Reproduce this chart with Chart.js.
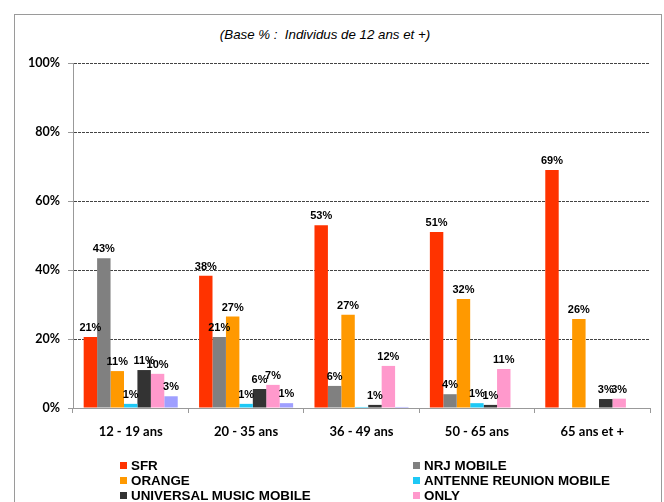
<!DOCTYPE html>
<html>
<head>
<meta charset="utf-8">
<script src="https://cdn.jsdelivr.net/npm/chart.js@4.4.0/dist/chart.umd.min.js"></script>
<style>
  html, body { margin: 0; padding: 0; background: #fff; }
  #wrap { position: relative; width: 664px; height: 502px; overflow: hidden; }
  #frame { position: absolute; left: 14px; top: 14px; width: 648px; height: 600px; border: 1px solid #9a9a9a; box-sizing: border-box; }
  #title { position: absolute; left: 0; width: 650px; top: 27px; text-align: center; white-space: pre;
           font: italic 13.3px "Liberation Sans", Arial, sans-serif; color: #000; }
  canvas { position: absolute; left: 0; top: 0; }
  .leg { position: absolute; font: bold 13.4px "Liberation Sans", Arial, sans-serif; color: #000; white-space: nowrap; line-height: 15px; }
  .leg span { display: inline-block; width: 7px; height: 7px; margin-right: 4px; vertical-align: 1px; }
</style>
</head>
<body>
<div id="wrap">
  <div id="frame"></div>
  <div id="title">(Base % :  Individus de 12 ans et +)</div>
  <canvas id="chart" width="664" height="502"></canvas>
  <div id="legend"></div>
</div>
<script>
// --- Data ---
const categories = ["12 - 19 ans", "20 - 35 ans", "36 - 49 ans", "50 - 65 ans", "65 ans et +"];

const sfr       = [20.6, 38.3, 53, 51, 69];
const nrj       = [43.4, 20.6, 6.4, 4, 0];
const orange    = [10.7, 26.5, 27, 31.6, 25.8];
const antenne   = [1.2, 1.2, 0.3, 1.4, 0];
const universal = [11, 5.5, 0.9, 0.9, 2.6];
const only      = [9.9, 6.7, 12.2, 11.3, 2.7];
const other     = [3.4, 1.4, 0.3, 0, 0];

const yTicks = [0, 20, 40, 60, 80, 100];

const series = [
  { label: "SFR", data: sfr, color: "#ff3300" },
  { label: "NRJ MOBILE", data: nrj, color: "#808080" },
  { label: "ORANGE", data: orange, color: "#ff9900" },
  { label: "ANTENNE REUNION MOBILE", data: antenne, color: "#1ec8f5" },
  { label: "UNIVERSAL MUSIC MOBILE", data: universal, color: "#333333" },
  { label: "ONLY", data: only, color: "#ff99cc" },
  { label: "", data: other, color: "#9f9fff" }
];

// --- Value labels above the bars ---
const valueLabels = {
  id: "valueLabels",
  afterDatasetsDraw(chart) {
    const ctx = chart.ctx;
    ctx.save();
    ctx.font = "bold 11px 'Liberation Sans', Arial, sans-serif";
    ctx.fillStyle = "#000";
    ctx.textAlign = "center";
    ctx.textBaseline = "alphabetic";
    chart.data.datasets.forEach((ds, i) => {
      const meta = chart.getDatasetMeta(i);
      meta.data.forEach((bar, j) => {
        const v = ds.data[j];
        if (v < 0.5) return;
        ctx.fillText(Math.round(v) + "%", bar.x, bar.y - 6);
      });
    });
    ctx.restore();
  }
};

new Chart(document.getElementById("chart").getContext("2d"), {
  type: "bar",
  data: {
    labels: categories,
    datasets: series.map(s => ({
      label: s.label,
      data: s.data,
      backgroundColor: s.color,
      borderWidth: 0,
      categoryPercentage: 0.815,
      barPercentage: 1
    }))
  },
  options: {
    responsive: false,
    animation: false,
    layout: { padding: { left: 0, right: 14, top: 63, bottom: 0 } },
    plugins: {
      legend: { display: false },
      title: { display: false },
      tooltip: { enabled: false }
    },
    scales: {
      x: {
        afterFit: scale => { scale.height = 94; },
        grid: { drawOnChartArea: false, tickLength: 5, color: "#999" },
        border: { color: "#999", width: 1 },
        ticks: {
          padding: 11,
          color: "#000",
          font: { family: "Lato, 'Open Sans', sans-serif", weight: "bold", size: 13 }
        }
      },
      y: {
        min: 0,
        max: 100,
        afterFit: scale => { scale.width = 73; },
        afterBuildTicks: scale => { scale.ticks = yTicks.map(v => ({ value: v })); },
        grid: {
          color: c => (c.tick && c.tick.value === 0 ? "rgba(0,0,0,0)" : "#444"),
          tickLength: 5,
          tickColor: "#999",
          tickBorderDash: []
        },
        border: { color: "#999", width: 1, dash: [3, 1] },
        ticks: {
          padding: 8,
          color: "#000",
          callback: v => v + "%",
          font: { family: "Lato, 'Open Sans', sans-serif", weight: "bold", size: 12.5 }
        }
      }
    }
  },
  plugins: [valueLabels]
});

// --- Legend (two columns, six named series) ---
const legend = document.getElementById("legend");
const legendCols = [120, 413];
const legendRows = [458, 473, 488];
series.filter(s => s.label).forEach((s, i) => {
  const d = document.createElement("div");
  d.className = "leg";
  d.style.left = legendCols[i % 2] + "px";
  d.style.top = legendRows[Math.floor(i / 2)] + "px";
  d.innerHTML = '<span style="background:' + s.color + '"></span>' + s.label;
  legend.appendChild(d);
});
</script>
</body>
</html>
